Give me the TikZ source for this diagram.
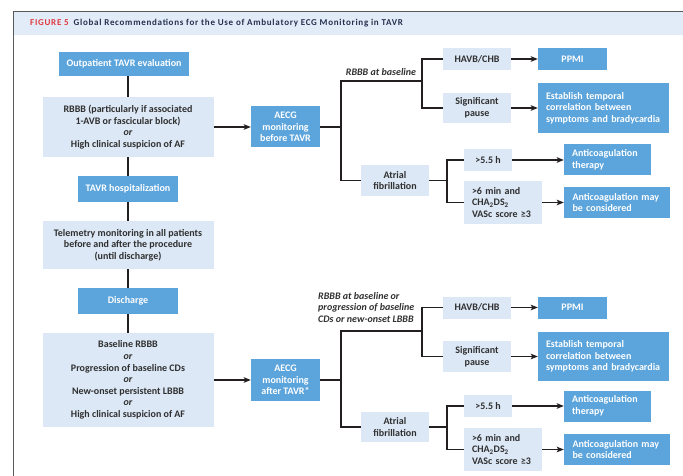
\documentclass[tikz,border=0pt]{standalone}
\usepackage{fontspec}
\setmainfont{Carlito}
\usetikzlibrary{arrows.meta}
\definecolor{mblue}{HTML}{5BA4DC}
\definecolor{lblue}{HTML}{DCE8F6}
\definecolor{band}{HTML}{E2ECF8}
\definecolor{ink}{HTML}{303030}
\definecolor{lnk}{HTML}{231F20}
\definecolor{figred}{HTML}{E0383E}
\definecolor{navy}{HTML}{26304F}
\definecolor{frame}{HTML}{5A5A5A}
\begin{document}
\begin{tikzpicture}[x=1pt,y=-1pt,
  box/.style={inner sep=0pt, font=\bfseries\fontsize{10}{11.6}\selectfont, align=center},
  dark/.style={box, fill=mblue, text=white},
  light/.style={box, fill=lblue, text=ink},
  sz/.style 2 args={minimum width=#1pt, minimum height=#2pt},
  conn/.style={draw=lnk, line width=1.5pt},
  arr/.style={conn, -{Stealth[length=7pt,width=5.5pt,inset=1.5pt]}},
  lab/.style={font=\bfseries\itshape\fontsize{10}{11.6}\selectfont, text=ink, inner sep=0pt},
]
\useasboundingbox (0,0) rectangle (683,476);
% frame and title band
\fill[band] (13,12) rectangle (683,35);
\draw[frame, line width=1pt] (683,12) -- (13,12) -- (13,476);
\node[anchor=west, inner sep=0pt, font=\bfseries\fontsize{9}{10}\selectfont\addfontfeatures{LetterSpace=8}] (title) at (30,23.5)
  {\textcolor{figred}{FIGURE 5}\hspace{5pt}\textcolor{navy}{Global Recommendations for the Use of Ambulatory ECG Monitoring in TAVR}};

% left column
\node[dark, sz={130}{24}] (outp) at (124,64) {Outpatient TAVR evaluation};
\node[light, sz={171}{60}] (rbbb) at (128,127) {RBBB (particularly if associated\\1-AVB or fascicular block)\\\textit{or}\\High clinical suspicion of AF};
\node[dark, sz={100}{26}] (hosp) at (128,189) {TAVR hospitalization};
\node[light, sz={171}{48}] (tele) at (128,245) {Telemetry monitoring in all patients\\before and after the procedure\\(until discharge)};
\node[dark, sz={100}{26}] (disch) at (128,301) {Discharge};
\node[light, sz={171}{94}] (base) at (128,380) {Baseline RBBB\\\textit{or}\\Progression of baseline CDs\\\textit{or}\\New-onset persistent LBBB\\\textit{or}\\High clinical suspicion of AF};

\draw[conn] (outp.south -| hosp) -- (rbbb.north -| hosp);
\draw[conn] (rbbb.south -| hosp) -- (hosp.north);
\draw[conn] (hosp.south) -- (tele.north -| hosp);
\draw[conn] (tele.south -| hosp) -- (disch.north);
\draw[conn] (disch.south) -- (base.north -| disch);

% AECG boxes
\node[dark, sz={69}{41}] (aecgA) at (285.5,127) {AECG\\monitoring\\before TAVR};
\node[dark, sz={69}{42}] (aecgB) at (285.5,380) {AECG\\monitoring\\after TAVR*};
\draw[arr] (rbbb.east) -- (aecgA.west);
\draw[arr] (base.east) -- (aecgB.west);

% upper tree
\node[light, sz={68}{22}] (havbA) at (477,59) {HAVB/CHB};
\node[dark, sz={69}{22}] (ppmiA) at (572.5,59) {PPMI};
\node[light, sz={68}{30}] (pauseA) at (477,108) {Significant\\pause};
\node[dark, sz={131}{50}, align=left, text width=115pt] (estA) at (603.5,108) {Establish temporal\\correlation between\\\mbox{symptoms and bradycardia}};
\node[light, sz={68}{31}] (afA) at (395,180.5) {Atrial\\fibrillation};
\node[light, sz={48}{22}] (hA) at (488,160) {>5.5 h};
\node[dark, sz={87}{31}, align=left, text width=71pt] (acA) at (607.5,160) {\mbox{Anticoagulation}\\therapy};
\node[light, sz={78}{43}, align=left, text width=62pt] (mA) at (503,202.5) {>6 min and\\CHA\textsubscript{2}DS\textsubscript{2}\\\mbox{VASc score ≥3}};
\node[dark, sz={106}{30}, align=left, text width=89pt] (acmA) at (617,202.5) {\mbox{Anticoagulation may}\\be considered};

\coordinate (sA) at (341,81);
\coordinate (tA) at (422,81);
\coordinate (jA) at (447,180.5);
\draw[conn] (aecgA.east) -- (aecgA.east -| sA);
\draw[conn] (afA.west) -| (sA) -- (tA);
\draw[conn] (havbA.west) -| (tA) |- (pauseA.west);
\draw[conn] (afA.east) -- (jA);
\draw[conn] (hA.west) -| (jA) |- (mA.west);
\draw[arr] (havbA) -- (ppmiA);
\draw[arr] (pauseA) -- (estA);
\draw[arr] (hA) -- (acA);
\draw[arr] (mA) -- (acmA);
\node[lab, anchor=south] (labA) at (381,76) {RBBB at baseline};

% lower tree
\node[light, sz={68}{22}] (havbB) at (477,307.5) {HAVB/CHB};
\node[dark, sz={69}{22}] (ppmiB) at (572.5,307.5) {PPMI};
\node[light, sz={68}{31}] (pauseB) at (477,356.5) {Significant\\pause};
\node[dark, sz={131}{49}, align=left, text width=115pt] (estB) at (603.5,356.5) {Establish temporal\\correlation between\\\mbox{symptoms and bradycardia}};
\node[light, sz={68}{30}] (afB) at (395,427) {Atrial\\fibrillation};
\node[light, sz={48}{22}] (hB) at (488,406) {>5.5 h};
\node[dark, sz={87}{31}, align=left, text width=71pt] (acB) at (607.5,406) {\mbox{Anticoagulation}\\therapy};
\node[light, sz={78}{43}, align=left, text width=62pt] (mB) at (503,449.5) {>6 min and\\CHA\textsubscript{2}DS\textsubscript{2}\\\mbox{VASc score ≥3}};
\node[dark, sz={106}{31}, align=left, text width=89pt] (acmB) at (617,449.5) {\mbox{Anticoagulation may}\\be considered};

\coordinate (sB) at (341,331);
\coordinate (tB) at (422,331);
\coordinate (jB) at (447,427);
\draw[conn] (aecgB.east) -- (aecgB.east -| sB);
\draw[conn] (afB.west) -| (sB) -- (tB);
\draw[conn] (havbB.west) -| (tB) |- (pauseB.west);
\draw[conn] (afB.east) -- (jB);
\draw[conn] (hB.west) -| (jB) |- (mB.west);
\draw[arr] (havbB) -- (ppmiB);
\draw[arr] (pauseB) -- (estB);
\draw[arr] (hB) -- (acB);
\draw[arr] (mB) -- (acmB);
\node[lab, anchor=north west, align=left] (labB) at (318,292) {RBBB at baseline or\\progression of baseline\\CDs or new-onset LBBB};
\end{tikzpicture}
\end{document}
